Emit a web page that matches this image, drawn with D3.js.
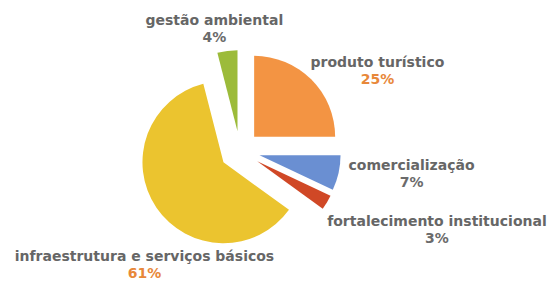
<!DOCTYPE html>
<html lang="pt">
<head>
<meta charset="UTF-8">
<title>Investimentos</title>
<script src="https://d3js.org/d3.v7.min.js"></script>
<style>
  body { margin: 0; background: #fff; }
  svg { display: block; }
  .lbl { font-family: "DejaVu Sans", Verdana, sans-serif; font-weight: bold; font-size: 14px; }
</style>
</head>
<body>
<svg width="553" height="282"></svg>
<script>
// === Data ===
const categories = ["produto turístico", "comercialização", "fortalecimento institucional", "infraestrutura e serviços básicos", "gestão ambiental"];
const values = [25, 7, 3, 61, 4];
const colors = ["#f39443", "#6a8fd2", "#d04826", "#ebc42f", "#9cbb3a"];
const pctColors = ["#e8883a", "#6b6b6b", "#6b6b6b", "#e8883a", "#6b6b6b"];
// label nudges relative to each slice's outer point
const labelNudge = [[66, -9], [73, 1], [110, 28], [-12, 57], [-13, -22]];

const svg = d3.select("svg");
const cx = 240, cy = 151, r = 81, explode = 20;

const pie = d3.pie().sort(null).value(d => d)(values);
const arc = d3.arc().innerRadius(0).outerRadius(r);
const rim = d3.arc().innerRadius(r).outerRadius(r);
const total = d3.sum(values);
const fmt = d3.format(".0%");

const g = svg.append("g").attr("transform", `translate(${cx},${cy})`);

function shift(d) {
  const a = (d.startAngle + d.endAngle) / 2;
  return [Math.sin(a) * explode, -Math.cos(a) * explode];
}

g.selectAll("path")
  .data(pie)
  .join("path")
  .attr("d", arc)
  .attr("fill", (d, i) => colors[i])
  .attr("transform", d => `translate(${shift(d)})`);

const labels = g.selectAll("g.label")
  .data(pie)
  .join("g")
  .attr("class", "label")
  .attr("transform", (d, i) => {
    const s = shift(d), p = rim.centroid(d);
    return `translate(${p[0] + s[0] + labelNudge[i][0]},${p[1] + s[1] + labelNudge[i][1]})`;
  });

labels.append("text")
  .attr("class", "lbl")
  .attr("text-anchor", "middle")
  .attr("y", -4)
  .attr("fill", "#666666")
  .text((d, i) => categories[i]);

labels.append("text")
  .attr("class", "lbl")
  .attr("text-anchor", "middle")
  .attr("y", 13)
  .attr("fill", (d, i) => pctColors[i])
  .text(d => fmt(d.data / total));
</script>
</body>
</html>
